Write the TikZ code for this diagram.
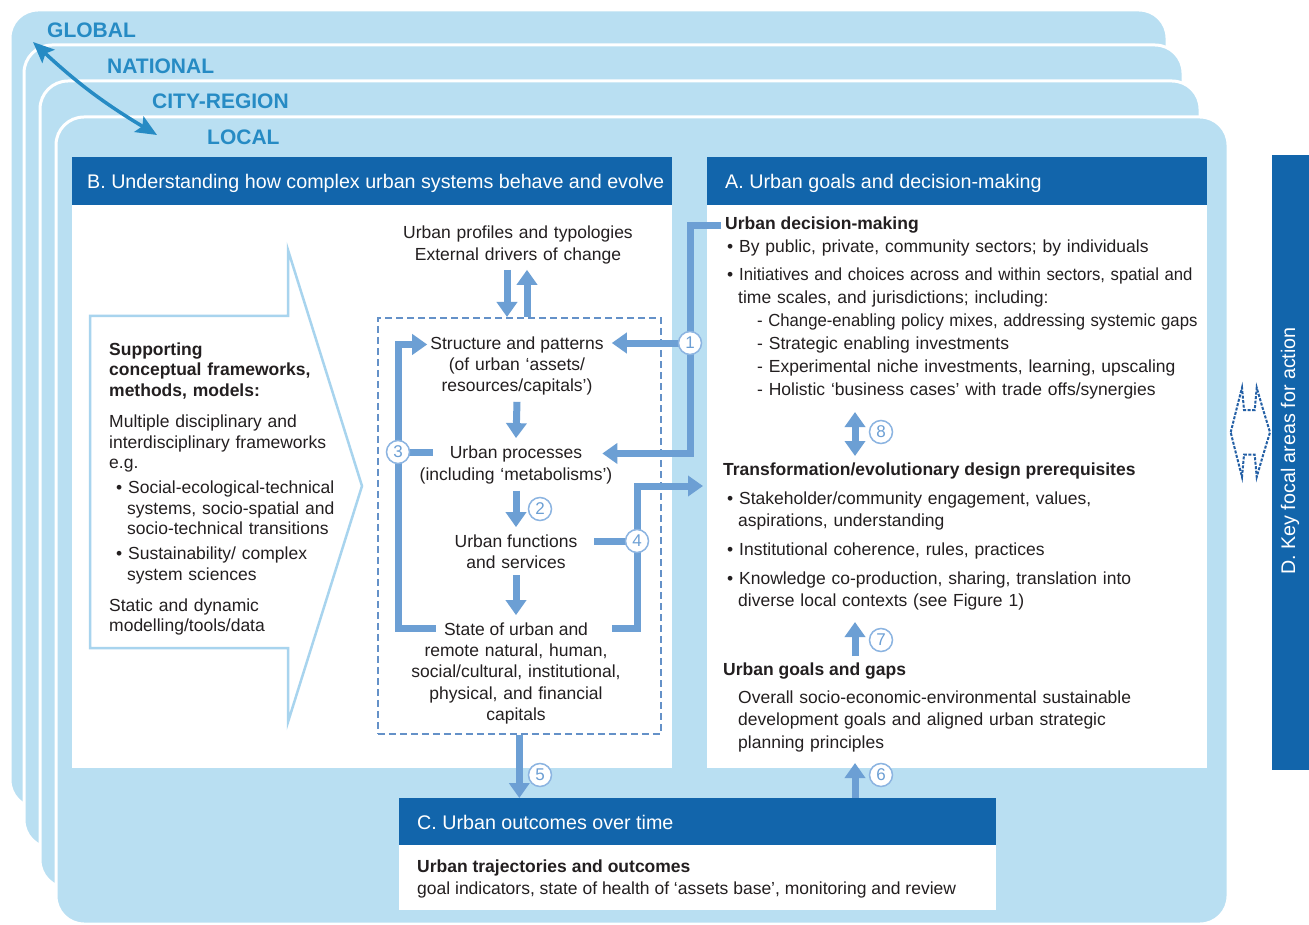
\documentclass[tikz,border=0pt]{standalone}
\usepackage{fontspec}
\setmainfont{Liberation Sans}
\usetikzlibrary{arrows.meta}
\definecolor{layerfill}{RGB}{185,223,242}
\definecolor{levelc}{RGB}{38,139,196}
\definecolor{hdrc}{RGB}{18,101,171}
\definecolor{flowc}{RGB}{108,159,212}
\definecolor{dashc}{RGB}{100,145,200}
\definecolor{numc}{RGB}{140,180,225}
\definecolor{hollowc}{RGB}{168,212,238}
\definecolor{txtc}{RGB}{35,31,32}
\definecolor{dshc}{RGB}{35,95,165}
\newcommand{\fBody}{\fontsize{17.5}{22}\selectfont}
\newcommand{\fHdr}{\fontsize{19.7}{24}\selectfont}
\newcommand{\fLvl}{\fontsize{21}{25}\selectfont\bfseries}
\newcommand{\fNum}{\fontsize{17}{18}\selectfont}
\newcommand{\narrow}[1]{\scalebox{0.955}[1]{#1}}
\tikzset{
 layer/.style={fill=layerfill, draw=white, line width=3pt, rounded corners=28pt},
 lvl/.style={font=\fLvl, text=levelc, anchor=base west, inner sep=0pt},
 lvlarrow/.style={draw=levelc, line width=3.5pt, {Stealth[length=21pt,width=18pt,inset=4pt]}-{Stealth[length=21pt,width=18pt,inset=4pt]}},
 hdrbox/.style={fill=hdrc, inner sep=0pt, anchor=north west},
 bodybox/.style={fill=white, inner sep=0pt, anchor=north west},
 hdrtxt/.style={font=\fHdr, text=white, anchor=base west, inner sep=0pt},
 txt/.style={font=\fBody, text=txtc, inner sep=0pt, anchor=base west},
 btxt/.style={font=\fBody\bfseries, text=txtc, inner sep=0pt, anchor=base west},
 mid/.style={font=\fBody, text=txtc, inner xsep=8pt, inner ysep=7pt, anchor=base},
 midm/.style={mid, text width=250pt, align=center},
 flowline/.style={draw=flowc, line width=7pt},
 flow/.style={flowline, -{Triangle[length=15pt,width=20pt]}},
 dflow/.style={flowline, {Triangle[length=15pt,width=20pt]}-{Triangle[length=15pt,width=20pt]}},
 num/.style={circle, draw=numc, fill=white, line width=1.5pt, minimum size=23pt, inner sep=0pt, text=flowc, font=\fNum},
 hollowarrow/.style={draw=hollowc, line width=2.5pt, line join=miter},
 dboxst/.style={draw=dashc, line width=1.6pt, dash pattern=on 7pt off 4pt, inner sep=0pt, anchor=north west},
 dshape/.style={draw=dshc, line width=2pt, dash pattern=on 3pt off 1.5pt},
}
\begin{document}
\begin{tikzpicture}[x=1pt,y=-1pt]
\useasboundingbox (0,0) rectangle (1309,925);
\fill[white] (0,0) rectangle (1309,925);
% scale layers
\draw[layer] (10,10) rectangle (1167,808);
\draw[layer] (24,45) rectangle (1183,848);
\draw[layer] (40,81) rectangle (1200,888);
\draw[layer] (56,117) rectangle (1228,924);
\node[lvl] (lG) at (47,38) {GLOBAL};
\node[lvl] (lN) at (107,74) {NATIONAL};
\node[lvl] (lC) at (152,109) {CITY-REGION};
\node[lvl] (lL) at (207,145) {LOCAL};
\coordinate (gA) at (33,42);
\coordinate (gB) at (157,135);
\draw[lvlarrow] (gA) to[bend right=6] (gB);
% panels
\node[hdrbox, minimum width=600pt, minimum height=48pt] (Bh) at (72,157) {};
\node[bodybox, minimum width=600pt, minimum height=563pt] (Bb) at (72,205) {};
\node[hdrbox, minimum width=500pt, minimum height=48pt] (Ah) at (707,157) {};
\node[bodybox, minimum width=500pt, minimum height=563pt] (Ab) at (707,205) {};
\node[hdrbox, minimum width=597pt, minimum height=47pt] (Ch) at (399,798) {};
\node[bodybox, minimum width=597pt, minimum height=65pt] (Cb) at (399,845) {};
\node[hdrbox, minimum width=37pt, minimum height=615pt] (Dbar) at (1272,155) {};
\node[hdrtxt] (Bt) at (87,189) {B. Understanding how complex urban systems behave and evolve};
\node[hdrtxt] (At) at (725,189) {A. Urban goals and decision-making};
\node[hdrtxt] (Ct) at (417,829) {C. Urban outcomes over time};
\node[hdrtxt, rotate=90, anchor=center] (Dt) at (1290,451) {D. Key focal areas for action};
% hollow arrow
\draw[hollowarrow] (90,316) -- (288,316) -- (288,250) -- (362,486) -- (288,722) -- (288,648) -- (90,648) -- cycle;
\node[txt, text width=250pt, align=left, font={\fontsize{17.5}{20.5}\selectfont}] (sup) at (109,355) {%
\textbf{Supporting}\\
\textbf{conceptual frameworks,}\\
\textbf{methods, models:}\\[11pt]
Multiple disciplinary and\\
interdisciplinary frameworks\\
e.g.\\[4.5pt]
\hspace*{7pt}• Social-ecological-technical\\
\hspace*{18pt}systems, socio-spatial and\\
\hspace*{18pt}socio-technical transitions\\[5pt]
\hspace*{7pt}• Sustainability/ complex\\
\hspace*{18pt}system sciences\\[10pt]
Static and dynamic\\
modelling/tools/data};
% dashed box
\node[dboxst, minimum width=283pt, minimum height=416pt] (dbox) at (377,317) {};
% middle column
\node[midm, font={\fontsize{17.5}{22}\selectfont}, inner ysep=5pt] (prof) at (518,239) {Urban profiles and typologies\\External drivers of change};
\node[mid] (sp) at (517,349) {Structure and patterns};
\node[midm, font={\fontsize{17.5}{21}\selectfont}] (sp2) at (517,370) {(of urban ‘assets/\\resources/capitals’)};
\node[mid] (proc) at (516,458) {Urban processes};
\node[midm] (proc2) at (516,480) {(including ‘metabolisms’)};
\node[mid] (func) at (516,547) {Urban functions};
\node[midm] (func2) at (516,568) {and services};
\node[mid] (state) at (516,635) {State of urban and};
\node[midm, font={\fontsize{17.5}{21.5}\selectfont}] (state2) at (516,656) {remote natural, human,\\social/cultural, institutional,\\physical, and financial\\capitals};
% panel A text
\node[btxt] (admT) at (725,230) {Urban decision-making};
\node[txt, text width=540pt, align=left, font={\fontsize{17.5}{23}\selectfont}] (admB) at (727,253) {%
• By public, private, community sectors; by individuals\\[5pt]
• \narrow{Initiatives and choices across and within sectors, spatial and}\\
\hspace*{11pt}time scales, and jurisdictions; including:\\
\hspace*{30pt}\narrow{- Change-enabling policy mixes, addressing systemic gaps}\\
\hspace*{30pt}- Strategic enabling investments\\
\hspace*{30pt}- Experimental niche investments, learning, upscaling\\
\hspace*{30pt}- Holistic ‘business cases’ with trade offs/synergies};
\node[btxt] (trT) at (723,475) {Transformation/evolutionary design prerequisites};
\node[txt, text width=490pt, align=left, font={\fontsize{17.5}{22}\selectfont}] (trB) at (727,504) {%
• Stakeholder/community engagement, values,\\
\hspace*{11pt}aspirations, understanding\\[7pt]
• Institutional coherence, rules, practices\\[7pt]
• Knowledge co-production, sharing, translation into\\
\hspace*{11pt}diverse local contexts (see Figure 1)};
\node[btxt] (ggT) at (723,675) {Urban goals and gaps};
\node[txt, text width=470pt, align=left, font={\fontsize{17.5}{22.5}\selectfont}] (ggB) at (738,703) {%
Overall socio-economic-environmental sustainable\\
development goals and aligned urban strategic\\
planning principles};
% panel C text
\node[btxt] (cT) at (417,872) {Urban trajectories and outcomes};
\node[txt] (cB) at (417,894) {goal indicators, state of health of ‘assets base’, monitoring and review};
% circles positions
\coordinate (p1) at (690,343);
\coordinate (p3) at (398,452);
\coordinate (p4) at (637,541);
\coordinate (a4) at (703,486);
\coordinate (a6e) at (855,763);
\coordinate (a7s) at (855,656);
\coordinate (a7e) at (855,622);
\coordinate (a8s) at (855,412);
\coordinate (a8e) at (855,456);
% connectors
\draw[flow] ([xshift=-11pt]prof.south) -- ([xshift=-11pt]prof.south |- dbox.north);
\draw[flow] ([xshift=9pt]prof.south |- dbox.north) -- ([xshift=9pt]prof.south);
\draw[flow] (sp2.south) -- (proc.north);
\draw[flow] (proc2.south) -- (func.north);
\draw[flow] (func2.south) -- (state.north);
\draw[flowline] ([xshift=-4pt]admT.west) -| (p1);
\draw[flow] (p1) |- ([xshift=12pt]proc.east);
\draw[flow] (p1) -- (p1 -| sp.east);
\draw[flow] (state.west) -| (p3) |- ([xshift=5pt]sp.west);
\draw[flowline] (p3) -- ([xshift=-9pt]proc.west |- p3);
\draw[flowline] (p4) -- ([xshift=9pt]func.east |- p4);
\draw[flow] ([xshift=16pt]state.east) -| (p4) |- (a4);
\draw[flow] (dbox.south) -- (dbox.south |- Ch.north);
\draw[flow] (Ch.north -| a6e) -- (a6e);
\draw[flow] (a7s) -- (a7e);
\draw[dflow] (a8s) -- (a8e);
% number circles
\node[num] (c1) at (p1) {1};
\node[num] (c2) at (540,509) {2};
\node[num] (c3) at (p3) {3};
\node[num] (c4) at (p4) {4};
\node[num] (c5) at (540,775) {5};
\node[num] (c6) at (881,775) {6};
\node[num] (c7) at (881,640) {7};
\node[num] (c8) at (881,432) {8};
% D double arrow shape
\draw[dshape] (1230.7,432.3) -- (1236.7,408.3) -- (1242,387.7) -- (1244,410) -- (1254.7,410) -- (1256.7,387.7) -- (1262.7,408.3) -- (1270,432.3) -- (1262.7,456.3) -- (1256.7,477) -- (1254.7,454.7) -- (1244,454.7) -- (1242,477) -- (1236.7,456.3) -- cycle;
\end{tikzpicture}
\end{document}
